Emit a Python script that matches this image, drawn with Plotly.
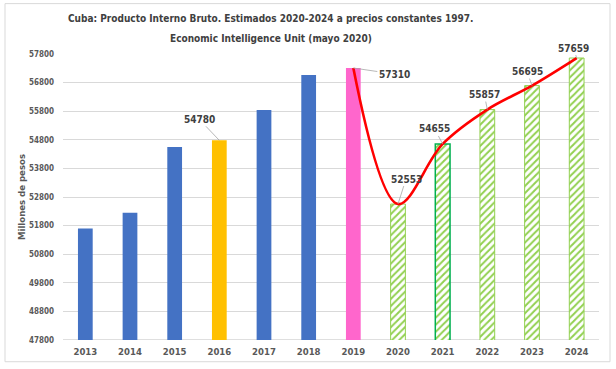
import plotly.graph_objects as go

years = ["2013", "2014", "2015", "2016", "2017", "2018", "2019",
         "2020", "2021", "2022", "2023", "2024"]
gdp = [51700, 52250, 54550, 54780, 55840, 57070, 57310,
       52553, 54655, 55857, 56695, 57659]
n_actual = 7  # 2013-2019 observed; 2020-2024 estimated
trend_years = ["2019", "2020", "2021", "2022", "2023", "2024"]
labeled_years = ["2016", "2019", "2020", "2021", "2022", "2023", "2024"]
y_ticks = [47800, 48800, 49800, 50800, 51800, 52800, 53800, 54800, 55800, 56800, 57800]

title_line1 = "Cuba: Producto Interno Bruto. Estimados 2020-2024 a precios constantes 1997."
title_line2 = "Economic Intelligence Unit (mayo 2020)"
y_title = "Millones de pesos"

# ---- styling ----
FONT = "DejaVu Sans Condensed, DejaVu Sans, sans-serif"
BLUE, GOLD, PINK, LGREEN, DGREEN = "#4472C4", "#FFC000", "#FF66CC", "#92D050", "#00B050"
actual_colors = [BLUE, BLUE, BLUE, GOLD, BLUE, BLUE, PINK]
est_line_colors = [LGREEN, DGREEN, LGREEN, LGREEN, LGREEN]
est_line_widths = [1, 1.5, 1, 1, 1]
label_offsets = {"2016": (-20, -21), "2019": (41, 6), "2020": (8, -25), "2021": (-8, -15),
                 "2022": (-3, -15), "2023": (-5, -14), "2024": (-3, -10)}

val = dict(zip(years, gdp))

fig = go.Figure()
fig.add_trace(go.Bar(
    x=years[:n_actual], y=gdp[:n_actual],
    marker=dict(color=actual_colors, line=dict(width=0)),
    hoverinfo="x+y", showlegend=False,
))
fig.add_trace(go.Bar(
    x=years[n_actual:], y=gdp[n_actual:],
    marker=dict(color="white",
                line=dict(color=est_line_colors, width=est_line_widths),
                pattern=dict(shape="/", fgcolor=LGREEN, bgcolor="white",
                             fillmode="replace", size=5, solidity=0.4)),
    hoverinfo="x+y", showlegend=False,
))
fig.add_trace(go.Scatter(
    x=trend_years, y=[val[y] for y in trend_years],
    mode="lines", line=dict(color="#FF0000", width=2.6, shape="spline", smoothing=1.0),
    showlegend=False, hoverinfo="skip",
))

annots = []
for yr in labeled_years:
    ax, ay = label_offsets[yr]
    annots.append(dict(x=years.index(yr), y=val[yr], xref="x", yref="y", text=f"{val[yr]}",
                       showarrow=True, arrowhead=0, arrowwidth=0.8, arrowcolor="#A6A6A6",
                       ax=ax, ay=ay, standoff=0,
                       font=dict(family=FONT, size=10, color="#404040", weight="bold")))
annots.append(dict(x=0.388, y=1.1226, xref="paper", yref="paper", text=title_line1,
                   showarrow=False, xanchor="center", yanchor="middle",
                   font=dict(family=FONT, size=10, color="#404040", weight="bold")))
annots.append(dict(x=0.388, y=1.0553, xref="paper", yref="paper", text=title_line2,
                   showarrow=False, xanchor="center", yanchor="middle",
                   font=dict(family=FONT, size=10, color="#404040", weight="bold")))
annots.append(dict(x=-42 / 536, y=0.5, xref="paper", yref="paper", text=y_title,
                   showarrow=False, xanchor="center", yanchor="middle", textangle=-90,
                   font=dict(family=FONT, size=9.5, color="#595959", weight="bold")))

fig.update_layout(
    width=616, height=369,
    margin=dict(l=63, r=17, t=54, b=26),
    paper_bgcolor="white", plot_bgcolor="white",
    barmode="overlay", bargap=0.67,
    font=dict(family=FONT, color="#595959"),
    annotations=annots,
    shapes=[dict(type="rect", xref="paper", yref="paper",
                 x0=-58 / 536, x1=1 + 11 / 536, y0=-22 / 289.5, y1=1 + 51 / 289.5,
                 line=dict(color="#D9D9D9", width=1), fillcolor="rgba(0,0,0,0)", layer="below"),
            dict(type="line", xref="paper", yref="y", x0=0, x1=1, y0=47800, y1=47800,
                 line=dict(color="#BFBFBF", width=1), layer="below")],
    xaxis=dict(type="category", categoryorder="array", categoryarray=years,
               range=[-0.5, 11.5], showgrid=False, showline=False, ticks="",
               tickfont=dict(family=FONT, size=9.5, color="#595959", weight="bold"),
               ticklabelstandoff=4, fixedrange=True),
    yaxis=dict(range=[47800, 57800], tickvals=y_ticks, ticktext=[str(t) for t in y_ticks],
               showgrid=True, gridcolor="#D9D9D9", gridwidth=1,
               zeroline=False, showline=False, ticks="",
               tickfont=dict(family=FONT, size=8, color="#595959", weight="bold"),
               ticklabelstandoff=8, fixedrange=True),
)
fig.write_html("out.html", config={"displayModeBar": False},
               post_script="document.body.style.margin='0';")
